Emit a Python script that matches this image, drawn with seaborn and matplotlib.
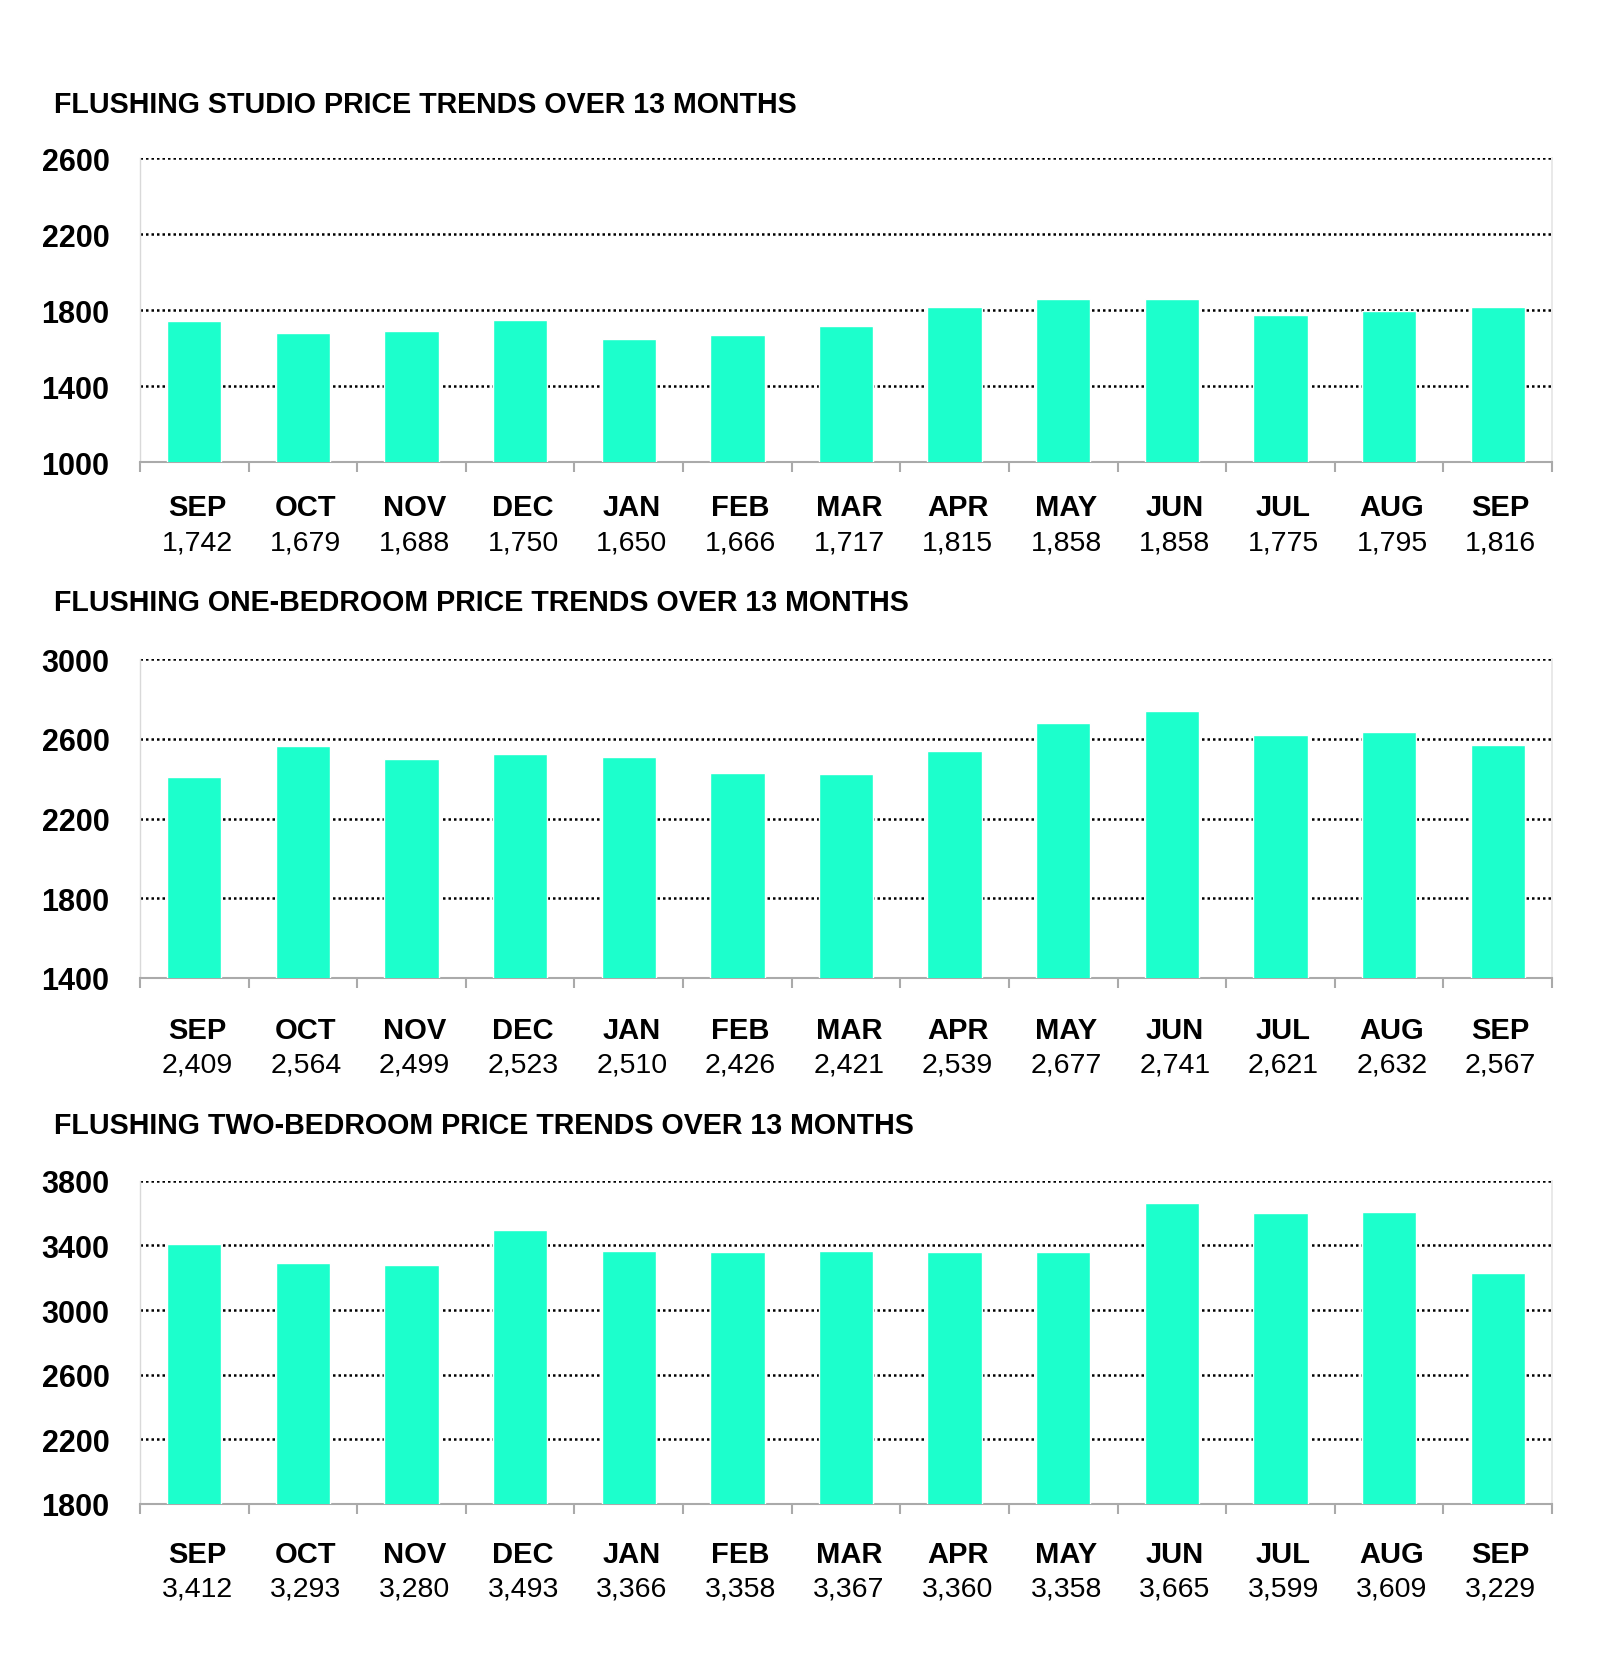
import matplotlib
matplotlib.use("Agg")
import matplotlib.pyplot as plt
import seaborn as sns
import pandas as pd
import numpy as np
from matplotlib.transforms import blended_transform_factory

months = ["SEP", "OCT", "NOV", "DEC", "JAN", "FEB", "MAR", "APR", "MAY", "JUN", "JUL", "AUG", "SEP"]
studio = [1742, 1679, 1688, 1750, 1650, 1666, 1717, 1815, 1858, 1858, 1775, 1795, 1816]
one_bed = [2409, 2564, 2499, 2523, 2510, 2426, 2421, 2539, 2677, 2741, 2621, 2632, 2567]
two_bed = [3412, 3293, 3280, 3493, 3366, 3358, 3367, 3360, 3358, 3665, 3599, 3609, 3229]

titles = ["FLUSHING STUDIO PRICE TRENDS OVER 13 MONTHS",
          "FLUSHING ONE-BEDROOM PRICE TRENDS OVER 13 MONTHS",
          "FLUSHING TWO-BEDROOM PRICE TRENDS OVER 13 MONTHS"]
yticks_list = [[1000, 1400, 1800, 2200, 2600],
               [1400, 1800, 2200, 2600, 3000],
               [1800, 2200, 2600, 3000, 3400, 3800]]
series = [studio, one_bed, two_bed]

sns.set_theme(style="white")
plt.rcParams['font.family'] = ['Liberation Sans', 'DejaVu Sans']
plt.rcParams['text.color'] = 'black'
plt.rcParams['xtick.color'] = 'black'
plt.rcParams['ytick.color'] = 'black'
plt.rcParams['xtick.labelcolor'] = 'black'
plt.rcParams['ytick.labelcolor'] = 'black'

BAR = "#1CFFCC"
fig = plt.figure(figsize=(16, 16.74), dpi=100)

rects = [[0.0875, 0.7234, 0.8825, 0.1816],
         [0.0875, 0.4152, 0.8825, 0.1905],
         [0.0875, 0.1010, 0.8825, 0.1930]]
title_y = [0.9373, 0.6398, 0.3274]
month_off = [45, 52, 50]
val_off = [80, 87, 85]

for i in range(3):
    ax = fig.add_axes(rects[i])
    df = pd.DataFrame({"slot": [str(k) for k in range(13)], "price": series[i]})
    sns.barplot(data=df, x="slot", y="price", color=BAR, saturation=1,
                width=0.5, ax=ax, zorder=3)
    yt = yticks_list[i]
    ax.set_ylim(yt[0], yt[-1])
    ax.set_xlim(-0.5, 12.5)
    ax.set_yticks(yt)
    ax.set_yticklabels([str(v) for v in yt], fontsize=22, fontweight="bold",
                       color="black")
    ax.tick_params(axis="y", length=0, pad=22)
    for v in yt[1:]:
        ax.axhline(v, color="black", linestyle=(0, (1, 1.2)), linewidth=1.8, zorder=1)
    ax.spines["top"].set_visible(False)
    ax.spines["left"].set_color("#d9d9d9")
    ax.spines["right"].set_color("#e6e6e6")
    ax.spines["bottom"].set_color("#aaaaaa")
    ax.spines["bottom"].set_linewidth(1.5)
    ax.spines["left"].set_linewidth(1.0)
    ax.set_xticks(np.arange(-0.5, 13, 1.0), minor=True)
    ax.tick_params(axis="x", which="minor", length=7, width=1.5, color="#aaaaaa",
                   direction="out", bottom=True)
    ax.set_xticks(range(13))
    ax.set_xticklabels([""] * 13)
    ax.tick_params(axis="x", which="major", length=0)
    ax.set_xlabel("")
    ax.set_ylabel("")
    trans = blended_transform_factory(ax.transData, ax.transAxes)
    for k in range(13):
        ax.annotate(months[k], xy=(k, 0), xycoords=trans,
                    xytext=(3, -month_off[i]), textcoords="offset pixels",
                    ha="center", va="center", fontsize=21, fontweight="bold",
                    color="black")
        ax.annotate(f"{series[i][k]:,}", xy=(k, 0), xycoords=trans,
                    xytext=(3, -val_off[i]), textcoords="offset pixels",
                    ha="center", va="center", fontsize=20.5, color="black")
    fig.text(0.034, title_y[i], titles[i], fontsize=20.6, fontweight="bold",
             ha="left", va="center", color="black")

fig.savefig("out.png", dpi=100, facecolor="white")
